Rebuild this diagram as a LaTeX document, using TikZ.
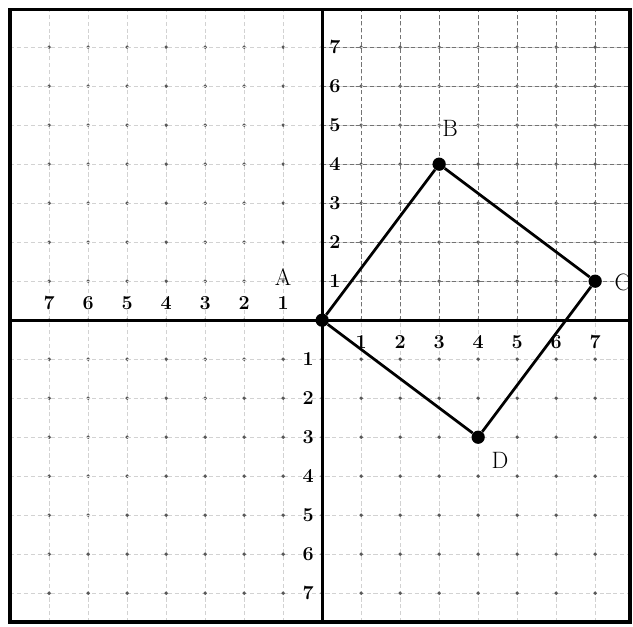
\documentclass[tikz,border=0pt]{standalone}
\usepackage{tikz}

\begin{document}
\begin{tikzpicture}[pt/.style={circle,fill=black,inner sep=0pt,minimum size=3.4mm},
num/.style={font=\bfseries\Large,inner sep=1pt},
lt/.style={font=\LARGE,inner sep=1pt},
grd/.style={densely dashed,gray!35,line width=0.6pt},
grdq/.style={densely dashed,black!55,line width=0.8pt}]
\useasboundingbox (-8.26,-7.85) rectangle (7.97,8.21);
% faint grid and dots
\foreach \i in {-7,...,7} {
  \draw[grd] (\i,-7.74) -- (\i,7.97);
  \draw[grd] (-8,\i) -- (7.9,\i);
  \foreach \j in {-7,...,7} \fill[black!65] (\i,\j) circle (1.4pt);
}
% first quadrant grid
\foreach \i in {1,...,7} {
  \draw[grdq] (\i,0) -- (\i,7.97);
  \draw[grdq] (0,\i) -- (7.9,\i);
}
% axes and frame
\draw[line width=2.4pt] (-8,0) -- (7.9,0);
\draw[line width=2.4pt] (0,-7.74) -- (0,7.97);
\draw[line width=2.6pt] (-8,-7.74) rectangle (7.9,7.97);
% scale numbers
\foreach \i in {1,...,7} {
  \node[num] (xp\i) at (\i,-0.56) {\i};
  \node[num] (xn\i) at (-\i,0.44) {\i};
  \node[num] (yp\i) at (0.33,\i) {\i};
  \node[num] (yn\i) at (-0.36,-\i) {\i};
}
% square
\node[pt] (A) at (0,0) {};
\node[pt] (B) at (3,4) {};
\node[pt] (C) at (7,1) {};
\node[pt] (D) at (4,-3) {};
\draw[line width=2pt] (A) -- (B) -- (C) -- (D) -- (A);
\node[lt] (la) at (-1.0,1.1) {A};
\node[lt] (lb) at (3.28,4.92) {B};
\node[lt] (lc) at (7.7,0.97) {C};
\node[lt] (ld) at (4.56,-3.59) {D};
\end{tikzpicture}
\end{document}
